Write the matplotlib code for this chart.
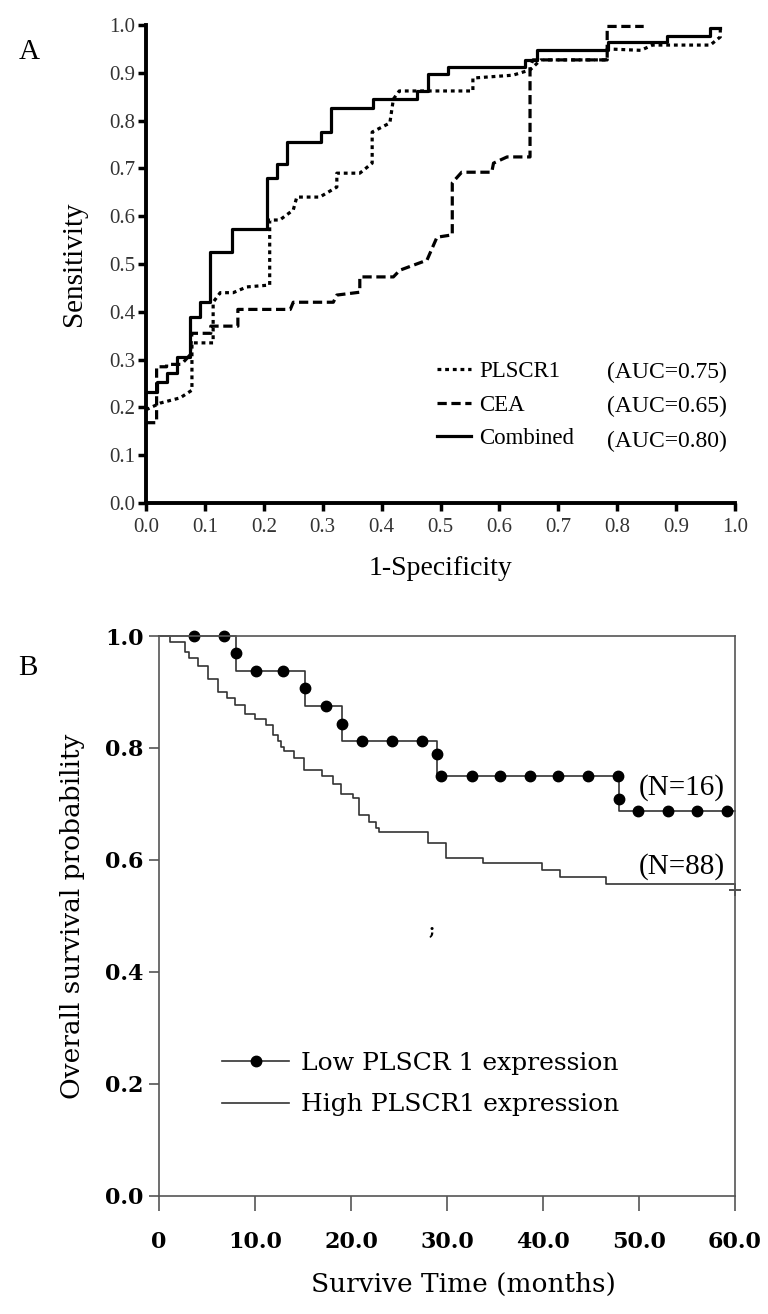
import matplotlib
matplotlib.use("Agg")
import matplotlib.pyplot as plt
from matplotlib.lines import Line2D

# ---------------- Panel A: ROC curves (vertices) ----------------
plscr1_fpr = [0, 0.024, 0.058, 0.078, 0.078, 0.114, 0.114, 0.126, 0.148, 0.171, 0.21, 0.21,
              0.227, 0.25, 0.256, 0.295, 0.324, 0.324, 0.363, 0.384, 0.384, 0.414, 0.42, 0.43,
              0.555, 0.555, 0.623, 0.652, 0.67, 0.783, 0.783, 0.84, 0.86, 0.958, 0.975, 0.975]
plscr1_tpr = [0.195, 0.209, 0.22, 0.236, 0.335, 0.335, 0.42, 0.44, 0.44, 0.452, 0.456, 0.592,
              0.592, 0.613, 0.64, 0.64, 0.661, 0.69, 0.69, 0.711, 0.776, 0.795, 0.845, 0.862,
              0.862, 0.889, 0.895, 0.906, 0.927, 0.927, 0.95, 0.947, 0.958, 0.958, 0.975, 0.993]

cea_fpr = [0, 0.018, 0.018, 0.035, 0.035, 0.06, 0.075, 0.078, 0.11, 0.11, 0.156, 0.156, 0.245,
           0.25, 0.318, 0.324, 0.363, 0.363, 0.42, 0.431, 0.477, 0.494, 0.52, 0.52, 0.536, 0.587,
           0.59, 0.613, 0.652, 0.652, 0.657, 0.703, 0.783, 0.783, 0.845]
cea_tpr = [0.168, 0.168, 0.285, 0.285, 0.29, 0.29, 0.31, 0.355, 0.355, 0.37, 0.37, 0.405, 0.405,
           0.42, 0.42, 0.435, 0.441, 0.473, 0.473, 0.487, 0.508, 0.556, 0.561, 0.67, 0.692, 0.692,
           0.711, 0.724, 0.724, 0.912, 0.927, 0.927, 0.927, 0.997, 0.997]

comb_fpr = [0, 0.018, 0.018, 0.035, 0.035, 0.052, 0.052, 0.075, 0.075, 0.092, 0.092, 0.109,
            0.109, 0.146, 0.146, 0.205, 0.205, 0.222, 0.222, 0.239, 0.239, 0.297, 0.297, 0.314,
            0.314, 0.386, 0.386, 0.46, 0.46, 0.478, 0.478, 0.513, 0.513, 0.644, 0.644, 0.664,
            0.664, 0.784, 0.784, 0.884, 0.884, 0.958, 0.958, 0.975]
comb_tpr = [0.232, 0.232, 0.253, 0.253, 0.272, 0.272, 0.305, 0.305, 0.39, 0.39, 0.42, 0.42,
            0.525, 0.525, 0.573, 0.573, 0.68, 0.68, 0.71, 0.71, 0.755, 0.755, 0.776, 0.776,
            0.826, 0.826, 0.845, 0.845, 0.862, 0.862, 0.897, 0.897, 0.912, 0.912, 0.927, 0.927,
            0.948, 0.948, 0.965, 0.965, 0.976, 0.976, 0.993, 0.993]

roc_names = ["PLSCR1", "CEA", "Combined"]
roc_auc = ["(AUC=0.75)", "(AUC=0.65)", "(AUC=0.80)"]
roc_ticks = [0.0, 0.1, 0.2, 0.3, 0.4, 0.5, 0.6, 0.7, 0.8, 0.9, 1.0]

# ---------------- Panel B: Kaplan-Meier curves ----------------
low_t = [0, 8.0, 15.2, 19.1, 29.0, 47.9, 60]
low_s = [1.0, 0.9375, 0.875, 0.8125, 0.75, 0.6875, 0.6875]
low_mark_t = [3.6, 6.8, 8.0, 10.1, 12.9, 15.2, 17.4, 19.1, 21.1, 24.3, 27.4, 29.0, 29.4, 32.6,
              35.5, 38.6, 41.6, 44.7, 47.8, 47.9, 49.9, 53.0, 56.0, 59.2]
low_mark_s = [1.0, 1.0, 0.97, 0.9375, 0.9375, 0.907, 0.875, 0.843, 0.8125, 0.8125, 0.8125, 0.79,
              0.75, 0.75, 0.75, 0.75, 0.75, 0.75, 0.75, 0.709, 0.6875, 0.6875, 0.6875, 0.6875]

high_t = [0, 1.15, 2.7, 3.1, 4.1, 5.1, 6.1, 7.1, 7.9, 9.0, 10.0, 11.1, 11.9, 12.4, 12.7, 13.0,
          14.1, 15.1, 17.0, 18.1, 19.0, 20.2, 20.8, 21.9, 22.6, 22.9, 28.0, 29.9, 33.8, 39.9,
          41.8, 46.6, 60]
high_s = [1.0, 0.989, 0.972, 0.961, 0.946, 0.924, 0.900, 0.889, 0.877, 0.861, 0.852, 0.841,
          0.823, 0.812, 0.801, 0.795, 0.783, 0.761, 0.750, 0.735, 0.718, 0.710, 0.680, 0.668,
          0.657, 0.650, 0.630, 0.603, 0.594, 0.582, 0.570, 0.558, 0.558]
high_cens_t = [60]
high_cens_s = [0.546]

km_xticks = [0, 10, 20, 30, 40, 50, 60]
km_xlabels = ["0", "10.0", "20.0", "30.0", "40.0", "50.0", "60.0"]
km_yticks = [0.0, 0.2, 0.4, 0.6, 0.8, 1.0]

serifA = "Liberation Serif"
serifB = "DejaVu Serif"

fig = plt.figure(figsize=(7.68, 13.14), dpi=100)

# ================= Panel A =================
axA = fig.add_axes([146 / 768, 811 / 1314, 589 / 768, 478 / 1314])
lw = 2.3
dot = (1.2, 1.2)
dash = (2.9, 1.45)
axA.plot(plscr1_fpr, plscr1_tpr, color="black", lw=lw, dashes=dot, clip_on=False)
axA.plot(cea_fpr, cea_tpr, color="black", lw=lw, dashes=dash, clip_on=False)
axA.plot(comb_fpr, comb_tpr, color="black", lw=lw, clip_on=False)

axA.set_xlim(0, 1)
axA.set_ylim(0, 1)
for s in ["top", "right"]:
    axA.spines[s].set_visible(False)
for s in ["left", "bottom"]:
    axA.spines[s].set_linewidth(2.8)
axA.set_xticks(roc_ticks)
axA.set_yticks(roc_ticks)
axA.set_xticklabels([f"{v:.1f}" for v in roc_ticks])
axA.set_yticklabels([f"{v:.1f}" for v in roc_ticks])
axA.tick_params(axis="both", direction="out", length=6, width=2.5, labelsize=15,
                labelcolor="#333333")
axA.tick_params(axis="y", pad=2)
axA.tick_params(axis="x", pad=5)
for lab in axA.get_xticklabels() + axA.get_yticklabels():
    lab.set_fontfamily(serifA)

axA.set_ylabel("Sensitivity", fontsize=21, fontfamily=serifA)
axA.yaxis.set_label_coords(-0.10, 0.5)
axA.set_xlabel("1-Specificity", fontsize=20, fontfamily=serifA)
axA.xaxis.set_label_coords(0.5, -0.11)

handles = [Line2D([], [], color="black", lw=lw, dashes=dot),
           Line2D([], [], color="black", lw=lw, dashes=dash),
           Line2D([], [], color="black", lw=lw)]
legA = axA.legend(handles, roc_names, loc="upper left", bbox_to_anchor=(0.494, 0.297),
                  frameon=False, borderpad=0, borderaxespad=0, handlelength=1.5,
                  handletextpad=0.35, labelspacing=0.55,
                  prop={"family": serifA, "size": 16.5})
axA.add_artist(legA)
blank = [Line2D([], [], color="none") for _ in roc_auc]
axA.legend(blank, roc_auc, loc="upper left", bbox_to_anchor=(0.783, 0.297),
           frameon=False, borderpad=0, borderaxespad=0, handlelength=0,
           handletextpad=0, labelspacing=0.55, prop={"family": serifA, "size": 17})

fig.text(29 / 768, 1 - 52 / 1314, "A", fontsize=21, fontfamily=serifA, ha="center", va="center")

# ================= Panel B =================
axB = fig.add_axes([159 / 768, 118 / 1314, 576 / 768, 560 / 1314])
gray = "#333333"
axB.plot(high_t, high_s, drawstyle="steps-post", color=gray, lw=1.2, clip_on=False)
axB.plot(low_t, low_s, drawstyle="steps-post", color=gray, lw=1.2, clip_on=False)
axB.plot(low_mark_t, low_mark_s, "o", color="black", ms=7.5, clip_on=False)
axB.plot(high_cens_t, high_cens_s, "+", color=gray, ms=8, mew=1.2, clip_on=False)

axB.set_xlim(0, 60)
axB.set_ylim(0, 1)
for s in axB.spines.values():
    s.set_linewidth(1.2)
    s.set_color("#555555")
axB.set_xticks(km_xticks)
axB.set_xticklabels(km_xlabels)
axB.set_yticks(km_yticks)
axB.set_yticklabels([f"{v:.1f}" for v in km_yticks])
axB.tick_params(axis="both", direction="out", width=1.2, color="#555555", labelsize=16)
axB.tick_params(axis="y", length=7, pad=4)
axB.tick_params(axis="x", length=11, pad=14)
for lab in axB.get_xticklabels() + axB.get_yticklabels():
    lab.set_fontfamily(serifB)
    lab.set_fontweight("bold")

axB.text(54.5, 0.73, "(N=16)", fontsize=21, fontfamily=serifA, ha="center", va="center")
axB.text(54.5, 0.5875, "(N=88)", fontsize=21, fontfamily=serifA, ha="center", va="center")
axB.text(28.4, 0.475, ";", fontsize=12, fontfamily=serifB, fontweight="bold",
         ha="center", va="center")

axB.set_ylabel("Overall survival probability", fontsize=19, fontfamily=serifB)
axB.yaxis.set_label_coords(-0.128, 0.5)
axB.set_xlabel("Survive Time (months)", fontsize=19, fontfamily=serifB)
axB.xaxis.set_label_coords(0.528, -0.135)

hB = [Line2D([], [], color=gray, lw=1.2, marker="o", ms=7.5, mfc="black", mec="black"),
      Line2D([], [], color=gray, lw=1.2)]
axB.legend(hB, ["Low PLSCR 1 expression", "High PLSCR1 expression"], loc="upper left",
           bbox_to_anchor=(0.109, 0.258), frameon=False, borderpad=0, borderaxespad=0,
           handlelength=2.7, handletextpad=0.45, labelspacing=0.75,
           prop={"family": serifB, "size": 18})

fig.text(28 / 768, 1 - 668 / 1314, "B", fontsize=21, fontfamily=serifA, ha="center", va="center")

fig.savefig("out.png", dpi=100)
